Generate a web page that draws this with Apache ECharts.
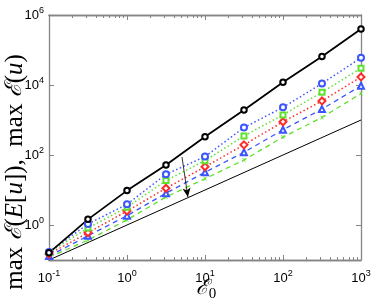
<!DOCTYPE html>
<html><head><meta charset="utf-8">
<script src="https://cdn.jsdelivr.net/npm/echarts@6/dist/echarts.min.js"></script>
<style>html,body{margin:0;padding:0;background:#fff}#c{width:374px;height:305px}</style>
</head><body><div id="c"></div>
<script>
// x values (E0)
const E0 = [0.1, 0.316, 1, 3.16, 10, 31.6, 100, 316, 1000];
// series values
const maxEu      = [0.16, 1.45, 9.6, 52, 333, 1940, 12000, 65000, 400000];
const blueCircle = [0.17, 1.07, 3.9, 28, 90, 610, 2300, 11000, 60000];
const greenSquare= [0.165, 0.82, 3.2, 18.6, 69, 350, 1400, 6200, 30000];
const redDiamond = [0.148, 0.60, 2.5, 11.2, 46, 195, 890, 3500, 17000];
const blueTri    = [0.13, 0.49, 1.85, 8.1, 32, 120, 525, 2050, 9500];
const greenX     = [0.12, 0.37, 1.4, 6.3, 21, 72, 325, 1180, 5700];
// reference line y = E0
const refX = [0.1, 1000];
const refY = [0.1, 1000];
// arrow annotation (data coords)
const arrowFrom = [5.07, 88];
const arrowTo = [6.03, 6.3];
// ticks
const xMajor = [0.1, 1, 10, 100, 1000];
const xMinor = [0.2,0.3,0.4,0.5,0.6,0.7,0.8,0.9,2,3,4,5,6,7,8,9,20,30,40,50,60,70,80,90,200,300,400,500,600,700,800,900];
const yMajor = [1, 100, 10000, 1000000];

const zip = (xs, ys) => xs.map((x, i) => [x, ys[i]]);
const AX = '#858585';
const supFmt = v => '{b|10}{s|' + Math.round(Math.log10(v)) + '}';
const labRich = {
  b: {fontFamily: 'Liberation Sans', fontSize: 13, color: '#000'},
  s: {fontFamily: 'Liberation Sans', fontSize: 9, color: '#000', padding: [0, 0, 9, 0]}
};
function xAx(pos, vals, len, labels) {
  return {type: 'log', logBase: 10, min: 0.1, max: 1000, position: pos,
    axisLine: {show: true, onZero: false, lineStyle: {color: AX, width: 1.3}},
    axisTick: {show: true, inside: true, length: len, customValues: vals, lineStyle: {color: AX, width: 1}},
    axisLabel: labels ? {show: true, customValues: vals, formatter: supFmt, rich: labRich, margin: 9} : {show: false},
    splitLine: {show: false}, minorTick: {show: false}};
}
function yAx(pos, labels) {
  return {type: 'log', logBase: 10, min: 0.1, max: 1000000, position: pos,
    axisLine: {show: true, onZero: false, lineStyle: {color: AX, width: 1.3}},
    axisTick: {show: true, inside: true, length: 5, customValues: yMajor, lineStyle: {color: AX, width: 1}},
    axisLabel: labels ? {show: true, customValues: yMajor, formatter: supFmt, rich: labRich, margin: 5} : {show: false},
    splitLine: {show: false}};
}
const xAxes = [xAx('bottom', xMajor, 5, true), xAx('top', xMajor, 5, false), xAx('bottom', xMinor, 3, false), xAx('top', xMinor, 3, false)];

const BLUE = '#3a55ff', GREEN = '#5fe02c', RED = '#ff2b2b';
function s(name, ys, color, type, width, symbol, size) {
  return {name, type: 'line', data: zip(E0, ys), xAxisIndex: 0, yAxisIndex: 0,
    lineStyle: {color, type, width}, symbol, symbolSize: size,
    itemStyle: {color, borderWidth: 1.5}, z: 3, animation: false};
}
const yTitle = '{r|max }{c|ℰ}{r|(}{i|E}{r|[}{i|u}{r|]),  max }{c|ℰ}{r|(}{i|u}{r|)}';
const xTitle = '{c|ℰ}{s|0}';
const option = {
  animation: false,
  grid: {left: 49, right: 13, top: 15, bottom: 45, containLabel: false, outerBoundsMode: 'none'},
  xAxis: xAxes,
  yAxis: [yAx('left', true), yAx('right', false)],
  graphic: [
    {type: 'text', x: 15, y: 172, rotation: Math.PI / 2, silent: true,
     style: {text: yTitle, align: 'center', verticalAlign: 'middle', rich: {
      r: {fontFamily: 'Liberation Serif', fontSize: 25, fill: '#000'},
      i: {fontFamily: 'Liberation Serif', fontStyle: 'italic', fontSize: 25, fill: '#000'},
      c: {fontFamily: 'DejaVu Serif', fontStyle: 'italic', fontSize: 23, fill: '#000'}
     }}},
    {type: 'text', x: 206, y: 289, silent: true,
     style: {text: xTitle, align: 'center', verticalAlign: 'middle', rich: {
      c: {fontFamily: 'DejaVu Serif', fontStyle: 'italic', fontSize: 21, fill: '#000'},
      s: {fontFamily: 'Liberation Serif', fontSize: 15, fill: '#000', padding: [10, 0, 0, 0]}
     }}}
  ],
  series: [
    {type: 'line', data: zip(refX, refY), symbol: 'none', lineStyle: {color: '#000', width: 1}, z: 2,
     markLine: {silent: true, symbol: ['none', 'arrow'], symbolSize: [6, 9], label: {show: false},
       lineStyle: {color: '#000', width: 0.8, type: 'solid'},
       data: [[{coord: arrowFrom}, {coord: arrowTo}]]}},
    s('greenX', greenX, GREEN, [5, 4], 1.3, 'path://M0,0L2,0L5,3L8,0L10,0L6,5L10,10L8,10L5,7L2,10L0,10L4,5Z', 4),
    s('blueTri', blueTri, BLUE, [5, 4], 1.3, 'emptyTriangle', 6),
    s('redDiamond', redDiamond, RED, [1.5, 2.5], 1.5, 'emptyDiamond', 7),
    s('greenSquare', greenSquare, GREEN, [1.5, 2.5], 1.5, 'emptyRect', 5),
    s('blueCircle', blueCircle, BLUE, [1.5, 2.5], 1.5, 'emptyCircle', 6),
    s('maxEu', maxEu, '#000', 'solid', 1.8, 'emptyCircle', 5.5)
  ]
};
option.series[1].itemStyle = {color: GREEN, borderWidth: 0};
echarts.init(document.getElementById('c'), null, {renderer: 'canvas'}).setOption(option);
</script></body></html>
